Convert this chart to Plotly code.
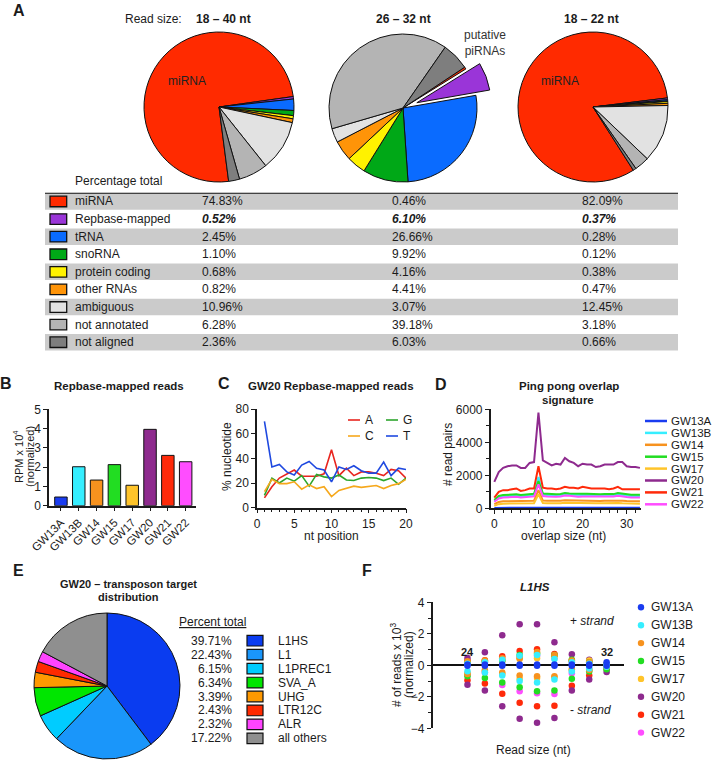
import plotly.graph_objects as go

W, H = 714, 762
FONT = "Liberation Sans, Arial, Helvetica, sans-serif"
INK = "#1b1b1b"

# ---------------- DATA ----------------
# Panel A
categories = ["miRNA", "Repbase-mapped", "tRNA", "snoRNA", "protein coding",
              "other RNAs", "ambiguous", "not annotated", "not aligned"]
cat_colors = ["#FF2A00", "#9A35D8", "#0A6BFF", "#00A817", "#FFF200",
              "#FF9408", "#E2E2E2", "#B4B4B4", "#7E7E7E"]
read_sizes = ["18 – 40 nt", "26 – 32 nt", "18 – 22 nt"]
pct_18_40 = [74.83, 0.52, 2.45, 1.10, 0.68, 0.82, 10.96, 6.28, 2.36]
pct_26_32 = [0.46, 6.10, 26.66, 9.92, 4.16, 4.41, 3.07, 39.18, 6.03]
pct_18_22 = [82.09, 0.37, 0.28, 0.12, 0.38, 0.47, 12.45, 3.18, 0.66]

# Panel B
samples = ["GW13A", "GW13B", "GW14", "GW15", "GW17", "GW20", "GW21", "GW22"]
sample_colors = ["#1A3CF0", "#36EEFF", "#F7921E", "#22DD22", "#FFC42A",
                 "#8E2A8E", "#FF2A0A", "#FF4DFF"]
repbase_rpm = [0.45, 2.02, 1.33, 2.13, 1.06, 3.96, 2.61, 2.28]

# Panel C
nt_pos = list(range(1, 21))
nucleotides = ["A", "G", "C", "T"]
nuc_colors = ["#E8251F", "#2CA52C", "#F6A81C", "#1F49E0"]
pct_A = [8, 17, 24, 27, 30.5, 25.5, 25.5, 25.5, 27.5, 47, 26, 32, 26, 29, 29, 28, 26, 31, 30, 24]
pct_G = [10, 24, 20, 24, 21.5, 26, 17.5, 27, 25, 24, 26.5, 22.5, 22, 24, 24.5, 24, 22, 24, 19, 24]
pct_C = [13, 23, 19.5, 19.5, 21, 15, 18.5, 15.5, 17, 9, 14, 15.5, 17.5, 16.5, 17, 18, 15.5, 18, 19.5, 23]
pct_T = [70, 33, 35, 29, 26.5, 34.5, 37.5, 32, 30.5, 21, 33, 31, 34, 30, 28, 28, 37, 26, 32, 31]

# Panel D
overlap = list(range(0, 34))
pp_GW13A = [20, 30, 30, 35, 35, 35, 30, 30, 35, 35, 70, 35, 35, 35, 30, 35, 35, 35, 35, 30, 35, 35, 30, 30, 35, 35, 35, 30, 35, 35, 30, 30, 30, 30]
pp_GW13B = [450, 650, 700, 750, 750, 780, 720, 750, 800, 800, 1900, 820, 800, 780, 750, 780, 850, 820, 800, 780, 800, 800, 780, 760, 780, 800, 800, 780, 850, 800, 760, 740, 740, 740]
pp_GW14 = [250, 380, 420, 430, 440, 450, 420, 430, 460, 460, 1100, 470, 460, 450, 450, 460, 490, 480, 470, 460, 470, 470, 460, 450, 450, 460, 470, 460, 490, 460, 440, 430, 430, 430]
pp_GW15 = [500, 750, 800, 820, 850, 850, 800, 820, 880, 880, 1650, 900, 880, 850, 850, 870, 930, 900, 880, 860, 880, 880, 860, 850, 850, 870, 880, 860, 920, 880, 840, 820, 820, 820]
pp_GW17 = [150, 250, 280, 290, 300, 300, 280, 290, 310, 310, 850, 320, 310, 300, 300, 310, 330, 320, 310, 300, 310, 310, 300, 300, 300, 310, 310, 300, 320, 300, 290, 280, 280, 280]
pp_GW20 = [1600, 2200, 2450, 2550, 2600, 2600, 2450, 2450, 2750, 2800, 5800, 2900, 2750, 2600, 2700, 2650, 3050, 2850, 2750, 2550, 2700, 2650, 2650, 2500, 2550, 2650, 2650, 2650, 2800, 2800, 2550, 2500, 2500, 2450]
pp_GW21 = [650, 1000, 1100, 1100, 1150, 1200, 1050, 1100, 1200, 1200, 2550, 1250, 1200, 1200, 1150, 1200, 1300, 1250, 1250, 1200, 1300, 1250, 1200, 1200, 1200, 1200, 1150, 1200, 1300, 1150, 1150, 1150, 1150, 1150]
pp_GW22 = [400, 600, 650, 680, 700, 700, 650, 680, 720, 720, 1450, 740, 720, 700, 700, 720, 780, 760, 720, 700, 720, 720, 700, 700, 700, 720, 720, 720, 760, 700, 680, 660, 660, 660]

# Panel E
targets = ["L1HS", "L1", "L1PREC1", "SVA_A", "UHG", "LTR12C", "ALR", "all others"]
target_pct = [39.71, 22.43, 6.15, 6.34, 3.39, 2.43, 2.32, 17.22]
target_colors = ["#0A3CF0", "#1A96FA", "#00CCFF", "#00E600", "#FF9900",
                 "#FF2A00", "#FF44FF", "#8F8F8F"]

# Panel F
read_len = [24, 25, 26, 27, 28, 29, 30, 31, 32]
l1hs_plus = {
    "GW13A": [0.05, 0.05, 0.05, 0.05, 0.05, 0.05, 0.05, 0.05, 0.2],
    "GW13B": [0.1, 0.2, 0.35, 0.6, 0.65, 0.4, 0.2, 0.1, 0.05],
    "GW14": [0.25, 0.3, 0.45, 0.45, 0.85, 0.65, 0.3, 0.2, 0.05],
    "GW15": [0.2, 0.25, 0.3, 0.65, 0.75, 0.65, 0.35, 0.2, 0.05],
    "GW17": [0.15, 0.25, 0.25, 0.4, 0.45, 0.55, 0.25, 0.3, 0.05],
    "GW20": [0.47, 0.83, 1.9, 2.6, 2.6, 1.47, 0.7, 0.35, 0.1],
    "GW21": [0.3, 0.32, 0.58, 0.9, 1.02, 0.72, 0.3, 0.25, 0.05],
    "GW22": [0.1, 0.2, 0.3, 0.5, 0.6, 0.45, 0.2, 0.1, 0.05],
}
l1hs_minus = {
    "GW13A": [-0.03, -0.03, -0.03, -0.03, -0.03, -0.03, -0.03, -0.03, -0.03],
    "GW13B": [-0.38, -0.45, -0.65, -1.0, -1.1, -0.9, -0.4, -0.2, -0.1],
    "GW14": [-0.55, -0.35, -0.45, -0.65, -0.7, -0.7, -0.3, -0.3, -0.1],
    "GW15": [-0.7, -0.8, -1.1, -1.4, -1.65, -1.6, -0.85, -0.4, -0.25],
    "GW17": [-0.5, -0.3, -0.55, -0.85, -0.8, -0.75, -0.25, -0.25, -0.05],
    "GW20": [-1.23, -1.6, -2.6, -3.4, -3.65, -3.35, -1.6, -0.9, -0.42],
    "GW21": [-0.95, -1.15, -1.8, -2.37, -2.6, -2.57, -1.3, -0.65, -0.2],
    "GW22": [-0.6, -0.45, -1.25, -1.65, -1.78, -1.82, -0.5, -0.3, -0.1],
}


# ---------------- HELPERS ----------------
def px(x):
    return x / W


def py(y):
    return 1 - y / H


fig = go.Figure()
annotations = []
shapes = []


def label(t, x, y, size=12, bold=False, italic=False, xanchor="center",
          yanchor="middle", angle=0, color=INK, xref="paper", yref="paper"):
    if italic:
        t = f"<i>{t}</i>"
    if bold:
        t = f"<b>{t}</b>"
    annotations.append(dict(
        text=t, x=px(x) if xref == "paper" else x, y=py(y) if yref == "paper" else y,
        xref=xref, yref=yref, xanchor=xanchor, yanchor=yanchor, showarrow=False,
        textangle=angle, borderpad=0,
        font=dict(family=FONT, size=size, color=color)))


def axis_style(**kw):
    d = dict(showline=True, linecolor=INK, linewidth=1.5, ticks="outside",
             ticklen=4, tickwidth=1.3, tickcolor=INK, showgrid=False, zeroline=False,
             tickfont=dict(family=FONT, size=12, color=INK), fixedrange=True,
             automargin=False)
    d.update(kw)
    return d


# ---------------- PANEL A: pies ----------------
pie_sets = [pct_18_40, pct_26_32, pct_18_22]
pie_geom = [(219, 107, 75, 172.6, 0.0), (403, 108, 74, 56.5, 0.2), (593, 107, 75, 147.5, 0.0)]
for vals, (cx, cy, r, rot, pull) in zip(pie_sets, pie_geom):
    half = r * (1 + pull)
    pulls = [pull if c == "Repbase-mapped" else 0 for c in categories]
    fig.add_trace(go.Pie(
        values=vals, labels=categories, sort=False, direction="clockwise",
        rotation=rot, pull=pulls, textinfo="none", hoverinfo="label+value",
        marker=dict(colors=cat_colors, line=dict(color="#111111", width=1)),
        domain=dict(x=[px(cx - half), px(cx + half)], y=[py(cy + half), py(cy - half)]),
        showlegend=False, automargin=False))

label("A", 18.5, 10, size=16, bold=True)
label("Read size:", 124, 19, size=12, xanchor="left")
for txt, cx in zip(read_sizes, [223, 403, 591]):
    label(txt, cx, 19, size=12, bold=True)
label("miRNA", 187, 81, size=12, color="#222")
label("miRNA", 560, 81, size=12, color="#222")
label("putative<br>piRNAs", 485, 43, size=12, color="#333")

# ---------------- PANEL A: table ----------------
n_rows = len(categories)
TW = 633
fig.add_trace(go.Scatter(x=[0], y=[0], xaxis="x5", yaxis="y5", mode="markers",
                         marker=dict(opacity=0), hoverinfo="skip", showlegend=False))
for i, (cat, col) in enumerate(zip(categories, cat_colors)):
    if i % 2 == 0:
        shapes.append(dict(type="rect", xref="x5", yref="y5", x0=0, x1=TW,
                           y0=i + 0.03, y1=i + 0.97, fillcolor="#CBCBCB",
                           line=dict(width=0), layer="below"))
    shapes.append(dict(type="rect", xref="x5", yref="y5", x0=5, x1=21.7,
                       y0=i + 0.2, y1=i + 0.8, fillcolor=col,
                       line=dict(color="#111", width=1.3)))
    label(cat, 29, i + 0.5, size=12, xanchor="left", xref="x5", yref="y5")
    for colx, series in zip([156, 346, 536], pie_sets):
        t = f"{series[i]:.2f}%"
        rep = cat == "Repbase-mapped"
        label(t, colx, i + 0.5, size=12, xanchor="left", xref="x5", yref="y5",
              bold=rep, italic=rep)
shapes.append(dict(type="line", xref="x5", yref="y5", x0=0, x1=TW, y0=0, y1=0,
                   line=dict(color="#111", width=2)))
label("Percentage total", 74, 181, size=12, xanchor="left")

# ---------------- PANEL B ----------------
fig.add_trace(go.Bar(x=samples, y=repbase_rpm, width=0.7, xaxis="x", yaxis="y",
                     marker=dict(color=sample_colors, line=dict(color="#111", width=1)),
                     showlegend=False))
label("B", 6, 383.5, size=16, bold=True)
label("Repbase-mapped reads", 118.5, 386, size=11.5, bold=True)
label("RPM x 10<sup>4</sup>", 18, 457, size=11, angle=-90)
label("(normalized)", 30, 457, size=11, angle=-90)

# ---------------- PANEL C ----------------
for name, col, vals in zip(nucleotides, nuc_colors, [pct_A, pct_G, pct_C, pct_T]):
    fig.add_trace(go.Scatter(x=nt_pos, y=vals, mode="lines", xaxis="x2", yaxis="y2",
                             line=dict(color=col, width=1.6), name=name, showlegend=False))
label("C", 224, 383.5, size=16, bold=True)
label("GW20 Repbase-mapped reads", 331, 386, size=11.5, bold=True)
label("% nucleotide", 227, 457, size=12, angle=-90)
label("nt position", 331, 536, size=12)
for i, (name, col) in enumerate(zip(nucleotides, nuc_colors)):
    cx0 = [348, 386][i % 2]
    ty = [420, 436][i // 2]
    shapes.append(dict(type="line", xref="paper", yref="paper", x0=px(cx0), x1=px(cx0 + 12),
                       y0=py(ty), y1=py(ty), line=dict(color=col, width=1.6)))
    label(name, cx0 + 15.5, ty, size=12, xanchor="left")

# ---------------- PANEL D ----------------
pp_series = [pp_GW13A, pp_GW13B, pp_GW14, pp_GW15, pp_GW17, pp_GW20, pp_GW21, pp_GW22]
for name, col, vals in zip(samples, sample_colors, pp_series):
    fig.add_trace(go.Scatter(x=overlap, y=vals, mode="lines", xaxis="x3", yaxis="y3",
                             line=dict(color=col, width=2), name=name, showlegend=False))
label("D", 440.5, 384, size=16, bold=True)
label("Ping pong overlap", 569, 386, size=11.5, bold=True)
label("signature", 568, 400, size=11.5, bold=True)
label("# read pairs", 448, 455, size=12, angle=-90)
label("overlap size (nt)", 563, 536, size=12)
for i, (name, col) in enumerate(zip(samples, sample_colors)):
    ty = 421 + i * 11.9
    shapes.append(dict(type="line", xref="paper", yref="paper", x0=px(645), x1=px(667),
                       y0=py(ty), y1=py(ty), line=dict(color=col, width=2.5)))
    label(name, 670, ty, size=11.5, xanchor="left")

# ---------------- PANEL E ----------------
ecx, ecy, er = 107, 686, 73
fig.add_trace(go.Pie(values=target_pct, labels=targets, sort=False, direction="clockwise",
                     rotation=0, textinfo="none", hoverinfo="label+value",
                     marker=dict(colors=target_colors, line=dict(color="#111111", width=1)),
                     domain=dict(x=[px(ecx - er), px(ecx + er)], y=[py(ecy + er), py(ecy - er)]),
                     showlegend=False, automargin=False))
label("E", 18.5, 570.5, size=16, bold=True)
label("GW20 – transposon target", 128, 584, size=11, bold=True)
label("distribution", 128, 597, size=11, bold=True)
label("<u>Percent total</u>", 178, 622, size=12, xanchor="left")
for i, (name, pct, col) in enumerate(zip(targets, target_pct, target_colors)):
    ty = 640.7 + i * 13.95
    label(f"{pct:.2f}%", 233, ty, size=12, xanchor="right")
    shapes.append(dict(type="rect", xref="paper", yref="paper", x0=px(247), x1=px(263),
                       y0=py(ty + 5.3), y1=py(ty - 5.3), fillcolor=col,
                       line=dict(color="#111", width=1.2)))
    label(name, 277, ty, size=12, xanchor="left")

# ---------------- PANEL F ----------------
for name, col in reversed(list(zip(samples, sample_colors))):
    fig.add_trace(go.Scatter(x=read_len + read_len, y=l1hs_plus[name] + l1hs_minus[name],
                             mode="markers", xaxis="x4", yaxis="y4", name=name,
                             marker=dict(color=col, size=6.5, line=dict(width=0)),
                             showlegend=False))
label("F", 367, 570.5, size=16, bold=True)
label("L1HS", 535, 587, size=11.5, bold=True, italic=True)
label("# of reads x 10<sup>3</sup>", 396, 665, size=12, angle=-90)
label("(normalized)", 409, 665, size=12, angle=-90)
label("Read size (nt)", 533, 750, size=12)
label("+ <i>strand</i>", 592, 621, size=12)
label("- <i>strand</i>", 590, 710, size=12)
label("24", read_len[0], 651.7, size=11, bold=True, xref="x4")
label("32", read_len[-1], 651.7, size=11, bold=True, xref="x4")
for i, (name, col) in enumerate(zip(samples, sample_colors)):
    ty = 607.3 + i * 17.9
    r = 3.2
    shapes.append(dict(type="circle", xref="paper", yref="paper", x0=px(641 - r), x1=px(641 + r),
                       y0=py(ty + r), y1=py(ty - r), fillcolor=col, line=dict(width=0)))
    label(name, 650, ty, size=12, xanchor="left")

# ---------------- LAYOUT ----------------
fig.update_layout(
    width=W, height=H, autosize=False,
    margin=dict(l=0, r=0, t=0, b=0, pad=0, autoexpand=False),
    paper_bgcolor="white", plot_bgcolor="white",
    font=dict(family=FONT, size=12, color=INK),
    showlegend=False,
    # B
    xaxis=axis_style(domain=[px(49), px(196)], range=[-0.67, 7.58], anchor="y",
                     tickangle=-45, type="category", tickfont=dict(family=FONT, size=11.5, color=INK)),
    yaxis=axis_style(domain=[py(505.7), py(409.3)], range=[0, 5], dtick=1, anchor="x"),
    # C
    xaxis2=axis_style(domain=[px(257), px(406)], range=[0, 20], dtick=5, anchor="y2",
                      minor=dict(dtick=1, ticks="outside", ticklen=2.5, tickcolor=INK, tickwidth=1)),
    yaxis2=axis_style(domain=[py(507.7), py(409)], range=[0, 80], dtick=20, anchor="x2"),
    # D
    xaxis3=axis_style(domain=[px(490.7), px(641)], range=[-0.82, 33.24], tickvals=[0, 10, 20, 30],
                      anchor="y3",
                      minor=dict(dtick=2, ticks="outside", ticklen=2.5, tickcolor=INK, tickwidth=1)),
    yaxis3=axis_style(domain=[py(508.3), py(409.3)], range=[0, 6000], dtick=2000, anchor="x3",
                      tickformat="d",
                      minor=dict(dtick=1000, ticks="outside", ticklen=2.5, tickcolor=INK, tickwidth=1)),
    # F
    xaxis4=dict(domain=[px(432.7), px(624)], range=[22, 33], anchor="y4", showline=False,
                showticklabels=False, ticks="", showgrid=False, zeroline=False, fixedrange=True,
                automargin=False),
    yaxis4=axis_style(domain=[py(728.3), py(602.3)], range=[-4, 4], dtick=2, anchor="x4",
                      zeroline=True, zerolinecolor="#111", zerolinewidth=2,
                      minor=dict(dtick=1, ticks="outside", ticklen=2.5, tickcolor=INK, tickwidth=1)),
    # table
    xaxis5=dict(domain=[px(45), px(678)], range=[0, TW], anchor="y5", visible=False,
                fixedrange=True, automargin=False),
    yaxis5=dict(domain=[py(351), py(192.7)], range=[n_rows, 0], anchor="x5", visible=False,
                fixedrange=True, automargin=False),
    annotations=annotations,
    shapes=shapes,
)

# remove the browser's default 8px page margin so the figure sits at the window origin
fig.write_html("out.html", config={"displayModeBar": False},
               post_script="document.body.style.margin='0px';")
